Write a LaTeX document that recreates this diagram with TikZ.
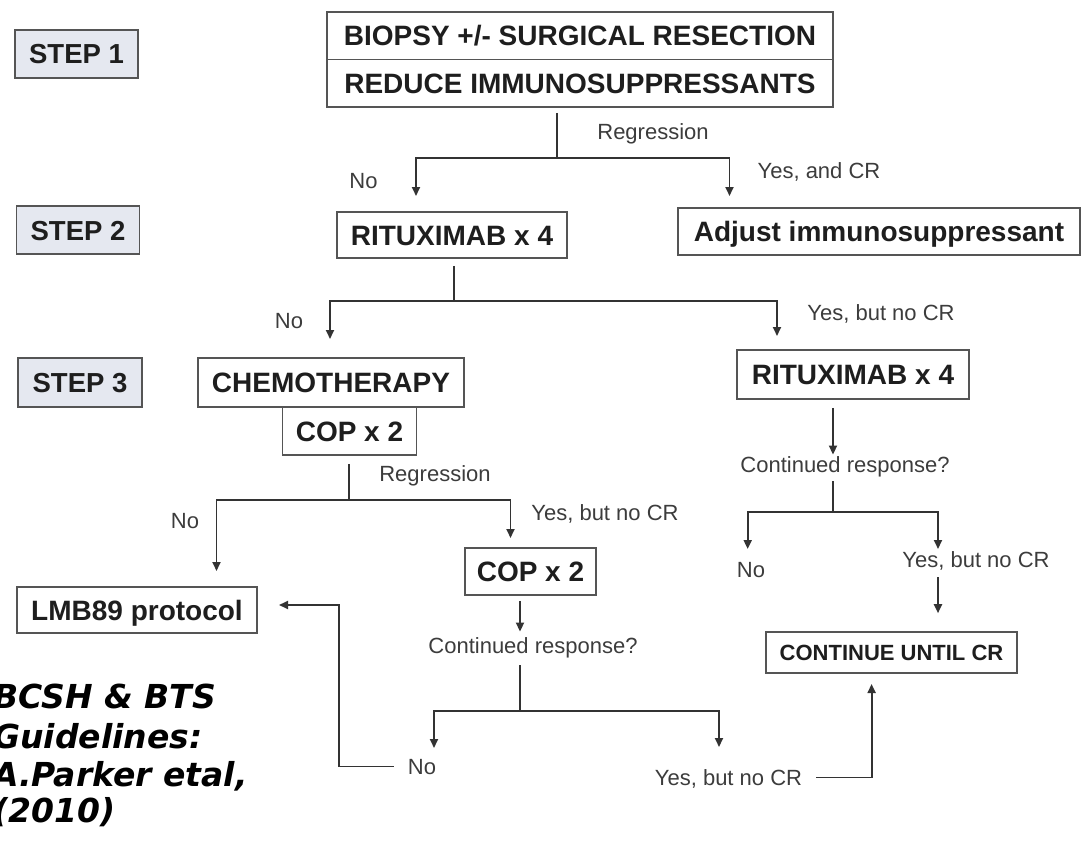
\documentclass[tikz,border=0pt]{standalone}
\usepackage{fontspec}
\setmainfont{Liberation Sans}
\newfontfamily\guidefont{DejaVu Sans}
\usetikzlibrary{arrows.meta}
\definecolor{linec}{HTML}{333333}
\definecolor{boxline}{HTML}{555555}
\definecolor{stepfill}{HTML}{E5E8F0}
\definecolor{txt}{HTML}{1E1E1E}
\definecolor{lbl}{HTML}{3C3C3C}
\begin{document}
\begin{tikzpicture}[x=1pt,y=-1pt,
  box/.style={draw=boxline, line width=1.6pt, fill=white, inner sep=0pt, text=txt,
    text height=20pt, text depth=0pt, font=\fontsize{28}{32}\selectfont\bfseries},
  stepbox/.style={box, fill=stepfill, font=\fontsize{27.5}{32}\selectfont\bfseries},
  smallbox/.style={box, text height=16pt, font=\fontsize{22}{26}\selectfont\bfseries},
  lab/.style={inner sep=0pt, text=lbl, text height=15.5pt, text depth=0pt,
    font=\fontsize{22}{26}\selectfont},
  guide/.style={inner sep=0pt, anchor=base west, text=black,
    font=\guidefont\bfseries\itshape\fontsize{33}{38}\selectfont},
  con/.style={draw=linec, line width=1.9pt},
  arr/.style={con, -{Triangle[length=9pt,width=8pt]}},
]
\useasboundingbox (0,0) rectangle (1088,843);

% step labels
\node[stepbox, minimum width=123pt, minimum height=48pt] (s1) at (76.5,54) {STEP 1};
\node[stepbox, minimum width=123pt, minimum height=48pt] (s2) at (78,230) {STEP 2};
\node[stepbox, minimum width=124pt, minimum height=49pt] (s3) at (80,382.5) {STEP 3};

% boxes
\node[box, minimum width=506pt, minimum height=47.5pt] (top1) at (580,35.75) {BIOPSY +/- SURGICAL RESECTION};
\node[box, minimum width=506pt, minimum height=47.5pt] (top2) at (580,83.25) {REDUCE IMMUNOSUPPRESSANTS};
\node[box, minimum width=229.5pt, minimum height=46pt] (rit1) at (452,235) {RITUXIMAB x 4};
\node[box, minimum width=401.5pt, minimum height=47pt] (adj) at (879,231.5) {Adjust immunosuppressant};
\node[box, minimum width=266.5pt, minimum height=49pt] (chemo) at (331,382.5) {CHEMOTHERAPY};
\node[box, minimum width=134pt, minimum height=48pt] (cop1) at (349.5,431) {COP x 2};
\node[box, minimum width=231.5pt, minimum height=49pt] (rit2) at (853,374.5) {RITUXIMAB x 4};
\node[box, minimum width=240pt, minimum height=46pt] (lmb) at (137,610) {LMB89 protocol};
\node[box, minimum width=131pt, minimum height=47pt] (cop2) at (530.5,571.5) {COP x 2};
\node[smallbox, minimum width=251pt, minimum height=41pt] (cont) at (891.5,652.5) {CONTINUE UNTIL CR};

% labels
\node[lab] (reg1) at (653,131.5) {Regression};
\node[lab] (no1) at (363.5,180.5) {No};
\node[lab] (yesand) at (819,171) {Yes, and CR};
\node[lab] (no2) at (289,321) {No};
\node[lab] (yb1) at (881,312.5) {Yes, but no CR};
\node[lab] (reg2) at (435,474) {Regression};
\node[lab] (no3) at (185,521) {No};
\node[lab] (yb2) at (605,512.5) {Yes, but no CR};
\node[lab] (cr1) at (845,464.5) {Continued response?};
\node[lab] (no4) at (751,569.5) {No};
\node[lab] (yb3) at (976,559.5) {Yes, but no CR};
\node[lab] (cr2) at (533,645.5) {Continued response?};
\node[lab] (no5) at (422,766.5) {No};
\node[lab] (yb4) at (728.5,777.5) {Yes, but no CR};

% guideline text (cut at the left edge, as in the reference)
\node[guide] (g1) at (-7,708) {BCSH \& BTS};
\node[guide] (g2) at (-7,748) {Guidelines:};
\node[guide] (g3) at (-7,786) {A.Parker etal,};
\node[guide] (g4) at (-7,822) {(2010)};

% junctions and arrow tips
\coordinate (j1) at (557,158);
\coordinate (t1a) at (416,196);
\coordinate (t1b) at (729.5,196);
\coordinate (j2) at (453.7,301);
\coordinate (t2a) at (330,339);
\coordinate (t2b) at (777,336);
\coordinate (j3) at (833,512);
\coordinate (t3a) at (747.7,549);
\coordinate (t3b) at (938,549);
\coordinate (j4) at (349,500);
\coordinate (t4a) at (216.5,571);
\coordinate (t4b) at (510.5,538);
\coordinate (j5) at (520,711);
\coordinate (t5a) at (434,748);
\coordinate (t5b) at (719,747);
\coordinate (e6) at (338.6,766.5);
\coordinate (t6) at (279,605);
\coordinate (e7) at (871.6,777.5);
\coordinate (t7) at (871.6,684);

% step 1 -> step 2
\draw[con, shorten <=5pt] (top2.south -| j1) -- (j1);
\draw[arr] (j1) -| (t1a);
\draw[arr] (j1) -| (t1b);

% step 2 -> step 3
\draw[con, shorten <=7pt] (rit1.south -| j2) -- (j2);
\draw[arr] (j2) -| (t2a);
\draw[arr] (j2) -| (t2b);

% right branch
\draw[arr, shorten <=8pt, shorten >=2pt] (rit2.south -| j3) -- (cr1.north -| j3);
\draw[con, shorten <=9pt] (cr1.south -| j3) -- (j3);
\draw[arr] (j3) -| (t3a);
\draw[arr] (j3) -| (t3b);
\draw[arr, shorten <=10pt, shorten >=18pt] (yb3.south -| t3b) -- (cont.north -| t3b);

% chemo branch
\draw[con, shorten <=8pt] (cop1.south -| j4) -- (j4);
\draw[arr] (j4) -| (t4a);
\draw[arr] (j4) -| (t4b);
\draw[arr, shorten <=5pt, shorten >=6pt] (cop2.south -| j5) -- (cr2.north -| j5);
\draw[con, shorten <=12pt] (cr2.south -| j5) -- (j5);
\draw[arr] (j5) -| (t5a);
\draw[arr] (j5) -| (t5b);

% returns
\draw[arr, shorten <=14pt] (no5.west) -- (e6) |- (t6);
\draw[arr, shorten <=14pt] (yb4.east) -- (e7) -- (t7);
\end{tikzpicture}
\end{document}
